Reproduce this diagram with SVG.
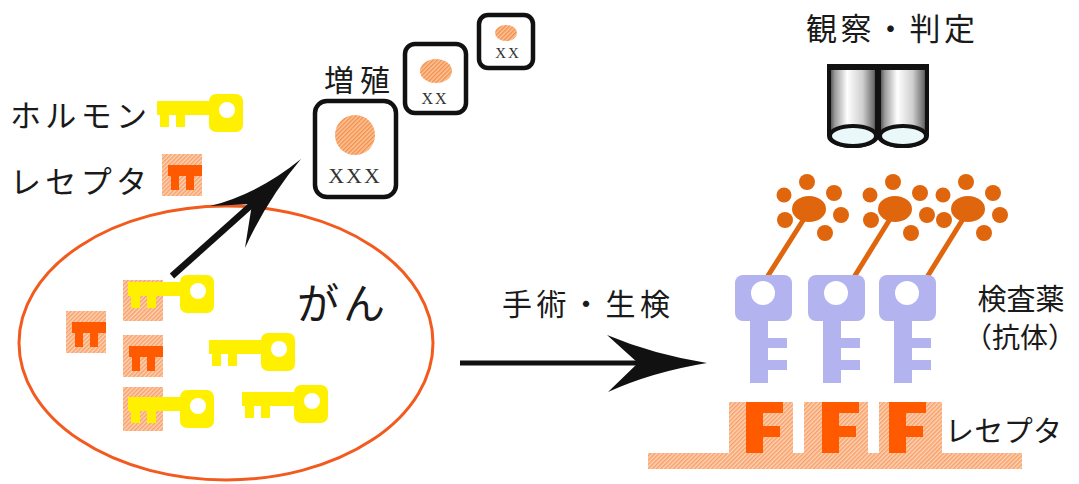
<svg xmlns="http://www.w3.org/2000/svg" xmlns:xlink="http://www.w3.org/1999/xlink" width="1079" height="484" viewBox="0 0 1079 484">
  <style>
    .jp { font-family: "Noto Sans CJK JP", "Noto Sans", sans-serif; fill: #1a1a1a; }
    .xx { font-family: "Liberation Serif", serif; fill: #333; }
    .cellbox { fill: #fff; stroke: #111; stroke-width: 4.5; }
    .nucleus { fill: url(#hatchNuc); }
    .yellow { fill: #FFF000; }
    .hole { fill: #fff; }
    .lightOr { fill: url(#hatchOr); }
    .darkOr { fill: #FF5A00; }
    .lav { fill: #B3B3F0; }
    .dye { fill: #E0660E; }
    .dyeLine { stroke: #E0660E; stroke-width: 5; stroke-linecap: round; }
    .tube { fill: url(#tubeGrad); stroke: #111; stroke-width: 4; }
    .lens { fill: #EAF8FA; stroke: #111; stroke-width: 4; }
  </style>
  <defs>
    <pattern id="hatchOr" width="3" height="3" patternUnits="userSpaceOnUse" patternTransform="rotate(45)">
      <rect width="3" height="3" fill="#FDD3B4"/>
      <rect width="1.5" height="3" fill="#F7A06A"/>
    </pattern>
    <pattern id="hatchNuc" width="3" height="3" patternUnits="userSpaceOnUse" patternTransform="rotate(45)">
      <rect width="3" height="3" fill="#FCC69A"/>
      <rect width="1.5" height="3" fill="#F3904E"/>
    </pattern>
    <linearGradient id="tubeGrad" x1="0" y1="0" x2="1" y2="0">
      <stop offset="0" stop-color="#3a3a3a"/>
      <stop offset="0.12" stop-color="#9a9a9a"/>
      <stop offset="0.38" stop-color="#ffffff"/>
      <stop offset="0.7" stop-color="#cfcfcf"/>
      <stop offset="0.93" stop-color="#6f6f6f"/>
      <stop offset="1" stop-color="#2a2a2a"/>
    </linearGradient>
    <!-- hormone key, bow on the right, 86 x 38 -->
    <g id="hormoneKey">
      <rect class="yellow" x="52" y="0" width="34" height="38" rx="7"/>
      <rect class="yellow" x="0" y="7" width="56" height="14"/>
      <rect class="yellow" x="3" y="20" width="9" height="13"/>
      <rect class="yellow" x="19" y="20" width="9" height="13"/>
      <circle class="hole" cx="70" cy="16" r="8"/>
    </g>
    <!-- empty receptor: light square with dark socket -->
    <g id="receptor">
      <rect class="lightOr" x="0" y="0" width="40" height="42"/>
      <rect class="darkOr" x="6" y="11" width="34" height="11"/>
      <rect class="darkOr" x="9" y="21" width="8" height="15"/>
      <rect class="darkOr" x="24" y="21" width="8" height="15"/>
    </g>
    <!-- antibody key, bow on top, 57 x 108 -->
    <g id="antibodyKey">
      <rect class="lav" x="0" y="0" width="57" height="46" rx="8"/>
      <rect class="lav" x="15" y="44" width="18" height="64"/>
      <rect class="lav" x="32" y="63" width="20" height="10"/>
      <rect class="lav" x="32" y="85" width="20" height="10"/>
      <circle class="hole" cx="28" cy="18" r="12"/>
    </g>
    <!-- dye cluster attached to an antibody -->
    <g id="dye">
      <ellipse class="dye" cx="0" cy="0" rx="17" ry="13"/>
      <circle class="dye" cx="-2" cy="-27" r="8"/>
      <circle class="dye" cx="-25" cy="-14" r="7.5"/>
      <circle class="dye" cx="25" cy="-16" r="8"/>
      <circle class="dye" cx="-24" cy="11" r="8"/>
      <circle class="dye" cx="32" cy="6" r="8"/>
      <circle class="dye" cx="16" cy="24" r="8"/>
    </g>
  </defs>

  <!-- legend -->
  <g id="legend-hormone">
    <text class="jp" x="10" y="127" font-size="31" textLength="137" lengthAdjust="spacing">ホルモン</text>
    <use xlink:href="#hormoneKey" x="157" y="94"/>
  </g>
  <g id="legend-receptor">
    <text class="jp" x="10" y="193" font-size="31" textLength="137" lengthAdjust="spacing">レセプタ</text>
    <use xlink:href="#receptor" x="162" y="154"/>
  </g>

  <!-- cancer tissue -->
  <g id="cancer">
    <ellipse cx="226" cy="343" rx="207" ry="137" fill="none" stroke="#F25A1E" stroke-width="3"/>
    <text class="jp" x="297" y="319" font-size="42" textLength="88" lengthAdjust="spacing">がん</text>
    <use xlink:href="#receptor" x="66" y="311"/>
    <use xlink:href="#receptor" x="123" y="335"/>
    <rect class="lightOr" x="123" y="280" width="40" height="41"/>
    <use xlink:href="#hormoneKey" x="128" y="275"/>
    <rect class="lightOr" x="123" y="387" width="40" height="44"/>
    <use xlink:href="#hormoneKey" x="128" y="390"/>
    <use xlink:href="#hormoneKey" x="209" y="333"/>
    <use xlink:href="#hormoneKey" x="242" y="385"/>
  </g>

  <!-- proliferating cells -->
  <g id="proliferation">
    <text class="jp" x="324" y="91" font-size="30" textLength="66" lengthAdjust="spacing">増殖</text>
    <g id="cell-large">
      <rect class="cellbox" x="315" y="101" width="81" height="96" rx="12"/>
      <circle class="nucleus" cx="355" cy="135" r="20"/>
      <text class="xx" x="355" y="183" font-size="22" text-anchor="middle" letter-spacing="2">XXX</text>
    </g>
    <g id="cell-medium">
      <rect class="cellbox" x="405" y="44" width="61" height="69" rx="10"/>
      <ellipse class="nucleus" cx="436" cy="71" rx="16" ry="12"/>
      <text class="xx" x="435" y="104" font-size="16" text-anchor="middle" letter-spacing="2">XX</text>
    </g>
    <g id="cell-small">
      <rect class="cellbox" x="479" y="15" width="54" height="53" rx="9"/>
      <ellipse class="nucleus" cx="506" cy="33" rx="11" ry="8"/>
      <text class="xx" x="508" y="58" font-size="15" text-anchor="middle" letter-spacing="2">XX</text>
    </g>
  </g>

  <!-- observation -->
  <g id="observation">
    <text class="jp" x="806" y="40" font-size="31" textLength="169" lengthAdjust="spacing">観察・判定</text>
    <path class="tube" d="M829,67 H877 V136 A24,10 0 0 1 829,136 Z"/>
    <path class="tube" d="M879,67 H927 V136 A24,10 0 0 1 879,136 Z"/>
    <rect x="827" y="64" width="102" height="6" fill="#111"/>
    <rect x="875" y="64" width="6" height="74" fill="#111"/>
    <ellipse class="lens" cx="853" cy="136" rx="23" ry="10"/>
    <ellipse class="lens" cx="903" cy="136" rx="23" ry="10"/>
  </g>

  <!-- test reagent: labelled antibodies -->
  <g id="reagent">
    <line class="dyeLine" x1="764" y1="282" x2="809" y2="211"/>
    <line class="dyeLine" x1="851" y1="282" x2="895" y2="211"/>
    <line class="dyeLine" x1="924" y1="282" x2="968" y2="211"/>
    <use xlink:href="#dye" x="809" y="209"/>
    <use xlink:href="#dye" x="895" y="209"/>
    <use xlink:href="#dye" x="968" y="209"/>
    <use xlink:href="#antibodyKey" x="735" y="275"/>
    <use xlink:href="#antibodyKey" x="808" y="275"/>
    <use xlink:href="#antibodyKey" x="879" y="275"/>
    <text class="jp" x="1021" y="310" font-size="29" text-anchor="middle">検査薬</text>
    <text class="jp" x="1020" y="348" font-size="28" text-anchor="middle">（抗体）</text>
  </g>

  <!-- receptors on the tissue section -->
  <g id="receptor-row">
    <rect class="lightOr" x="648" y="453" width="374" height="16"/>
    <rect class="lightOr" x="729" y="402" width="64" height="52"/>
    <rect class="lightOr" x="804" y="402" width="64" height="52"/>
    <rect class="lightOr" x="879" y="402" width="63" height="52"/>
    <path class="darkOr" d="M746,402 h37 v11 h-20 v13 h17 v11 h-17 v16 h-17 Z"/>
    <path class="darkOr" d="M822,402 h37 v11 h-20 v13 h17 v11 h-17 v16 h-17 Z"/>
    <path class="darkOr" d="M889,402 h37 v11 h-20 v13 h17 v11 h-17 v16 h-17 Z"/>
    <text class="jp" x="945" y="442" font-size="29" textLength="117" lengthAdjust="spacing">レセプタ</text>
  </g>

  <!-- connectors -->
  <g id="connectors" fill="#111">
    <line x1="172" y1="276" x2="256" y2="201" stroke="#111" stroke-width="6.5" stroke-linecap="butt"/>
    <path d="M301,159 Q258,194 210,206 L252,204 L245,248 Q268,198 301,159 Z"/>
    <text class="jp" x="502" y="315" font-size="30" textLength="168" lengthAdjust="spacing">手術・生検</text>
    <line x1="460" y1="363" x2="640" y2="363" stroke="#111" stroke-width="5"/>
    <path d="M707,363 Q652,354 607,335 L638,363 L608,392 Q652,372 707,363 Z"/>
  </g>
</svg>
